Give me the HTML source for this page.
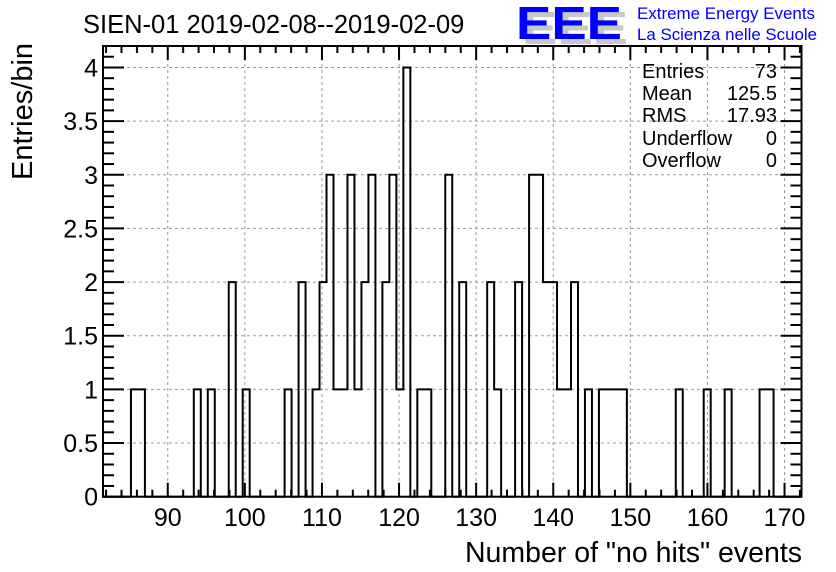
<!DOCTYPE html>
<html><head><meta charset="utf-8"><style>
html,body{margin:0;padding:0;background:#fff;}
svg{display:block;font-family:"Liberation Sans",sans-serif;}
</style></head><body>
<svg id="chart" width="836" height="572" viewBox="0 0 836 572">
<text x="83" y="33" font-size="25.5">SIEN-01 2019-02-08--2019-02-09</text>
<g>
<text x="522" y="44" font-size="46" font-weight="bold" fill="#c8c8c8" textLength="106" lengthAdjust="spacingAndGlyphs">EEE</text>
<text x="516" y="39" font-size="46" font-weight="bold" fill="#0000ff" textLength="106" lengthAdjust="spacingAndGlyphs">EEE</text>
<text x="637" y="19" font-size="16.5" fill="#0000ff" textLength="178" lengthAdjust="spacingAndGlyphs">Extreme Energy Events</text>
<text x="637" y="40" font-size="16.5" fill="#0000ff" textLength="180" lengthAdjust="spacingAndGlyphs">La Scienza nelle Scuole</text>
</g>
<g id="grid"></g>
<g id="hist"></g>
<g id="axes"></g>
<g font-size="20">
<text x="642" y="78">Entries</text><text x="777" y="78" text-anchor="end">73</text>
<text x="642" y="100">Mean</text><text x="777" y="100" text-anchor="end">125.5</text>
<text x="642" y="122">RMS</text><text x="777" y="122" text-anchor="end">17.93</text>
<text x="642" y="145">Underflow</text><text x="777" y="145" text-anchor="end">0</text>
<text x="642" y="167">Overflow</text><text x="777" y="167" text-anchor="end">0</text>
</g>
<text x="802" y="562" font-size="28.5" text-anchor="end">Number of "no hits" events</text>
<text transform="translate(32,180) rotate(-90)" font-size="29">Entries/bin</text>
</svg>
<script>
const xTicks = [90,100,110,120,130,140,150,160,170];
const yTicks = [0,0.5,1,1.5,2,2.5,3,3.5,4];
const yTickLabels = ["0","0.5","1","1.5","2","2.5","3","3.5","4"];
const binIndex = [4,5,13,15,18,20,26,28,30,31,32,33,34,35,36,37,38,40,41,42,43,45,46,49,51,55,56,59,61,62,63,64,65,66,67,69,71,72,73,74,82,86,89,94,95];
const binCount = [1,1,1,1,2,1,1,2,1,2,3,1,1,3,1,2,3,2,3,1,4,1,1,3,2,2,1,2,3,3,2,2,1,1,2,1,1,1,1,1,1,1,1,1,1];
const NB=100, XMIN=81.6, XMAX=172.2, YMAX=4.2;
const L=103,R=801.5,T=46,B=496.7;
const sx=v=>L+(v-XMIN)/(XMAX-XMIN)*(R-L);
const sy=v=>B-v/YMAX*(B-T);
const bw=(XMAX-XMIN)/NB;
const NS="http://www.w3.org/2000/svg";
function mk(tag,attrs,parent){const e=document.createElementNS(NS,tag);for(const k in attrs)e.setAttribute(k,attrs[k]);parent.appendChild(e);return e;}
const grid=document.getElementById('grid'),axes=document.getElementById('axes'),hist=document.getElementById('hist');
xTicks.forEach(v=>{const l=mk('line',{x1:sx(v),x2:sx(v),y1:T,y2:B,stroke:'#999','stroke-dasharray':'3,3','stroke-width':1},grid);

});
yTicks.forEach(v=>{if(v===0)return;const l=mk('line',{x1:L,x2:R,y1:sy(v),y2:sy(v),stroke:'#999','stroke-dasharray':'3,3','stroke-width':1},grid);

});
const counts=new Array(NB).fill(0);
binIndex.forEach((b,i)=>counts[b]=binCount[i]);
let d=`M${sx(XMIN)},${sy(0)}`;
for(let i=0;i<NB;i++){const x0=sx(XMIN+i*bw),x1=sx(XMIN+(i+1)*bw);d+=`L${x0},${sy(counts[i])}L${x1},${sy(counts[i])}`;}
d+=`L${sx(XMAX)},${sy(0)}`;
const p=mk('path',{d:d,fill:'none',stroke:'#000','stroke-width':2},hist);


const fr=mk('rect',{x:L,y:T,width:R-L,height:B-T,fill:'none',stroke:'#000','stroke-width':2},axes);


for(let v=82;v<=172;v+=2){const maj=v%10===0,len=maj?14:7;
mk('line',{x1:sx(v),x2:sx(v),y1:B,y2:B-len,stroke:'#000','stroke-width':2},axes);
mk('line',{x1:sx(v),x2:sx(v),y1:T,y2:T+len,stroke:'#000','stroke-width':2},axes);}
xTicks.forEach(v=>{const t=mk('text',{x:sx(v),y:526,'font-size':25,'text-anchor':'middle'},axes);t.textContent=v;

});
for(let k=0;k<=42;k++){const v=k/10,maj=k%5===0,len=maj?21:11;
mk('line',{x1:L,x2:L+len,y1:sy(v),y2:sy(v),stroke:'#000','stroke-width':2},axes);
mk('line',{x1:R,x2:R-len,y1:sy(v),y2:sy(v),stroke:'#000','stroke-width':2},axes);}
yTicks.forEach((v,i)=>{const t=mk('text',{x:98,y:sy(v)+9,'font-size':25,'text-anchor':'end'},axes);t.textContent=yTickLabels[i];

});
</script>
</body></html>
